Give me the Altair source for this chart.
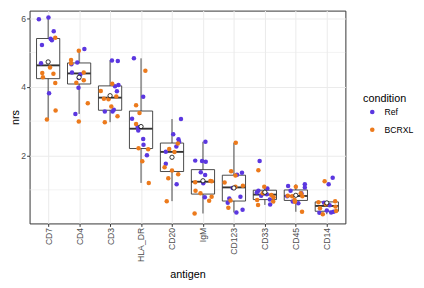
import altair as alt
import pandas as pd
import numpy as np

antigens = ["CD7", "CD4", "CD3", "HLA_DR", "CD20", "IgM", "CD123", "CD33", "CD45", "CD14"]
conditions = ["Ref", "BCRXL"]
condition_colors = ["#5b37e0", "#ec7a1c"]

ref_nrs = [
    [5.97, 6.02, 5.62, 5.40, 5.36, 5.22, 4.69, 3.81],
    [5.10, 4.66, 4.71, 4.42, 4.26, 3.97, 3.21, 4.36],
    [4.77, 4.75, 4.02, 4.05, 3.87, 3.28, 3.28, 3.33],
    [4.83, 3.71, 3.07, 2.83, 2.73, 2.48, 2.31, 2.01],
    [3.06, 2.62, 2.47, 2.40, 2.26, 2.11, 1.76, 1.16],
    [2.40, 1.85, 1.84, 1.82, 1.51, 1.43, 1.19, 0.78],
    [1.50, 1.44, 1.05, 0.80, 0.75, 0.62, 0.42, 0.34],
    [1.84, 1.04, 0.97, 0.92, 0.83, 0.72, 0.57, 0.87],
    [1.16, 1.11, 1.07, 0.97, 0.90, 0.81, 0.66, 0.61],
    [1.35, 1.16, 0.62, 0.55, 0.40, 0.36, 0.34, 0.33],
]
ref_jitter = [
    [-0.30, 0.01, 0.18, 0.08, 0.12, -0.20, -0.23, 0.03],
    [0.17, -0.25, -0.06, -0.23, -0.01, -0.02, -0.12, 0.04],
    [0.06, 0.25, 0.16, 0.27, 0.22, -0.17, 0.08, 0.12],
    [-0.23, 0.07, -0.29, -0.11, -0.09, 0.07, 0.08, 0.19],
    [0.29, 0.04, 0.21, 0.23, 0.14, -0.20, -0.20, 0.15],
    [0.08, -0.25, -0.03, 0.09, -0.07, 0.07, 0.01, 0.06],
    [0.26, 0.10, -0.04, 0.21, -0.15, -0.20, 0.28, 0.08],
    [-0.17, 0.08, -0.21, -0.26, -0.12, 0.16, 0.17, 0.06],
    [0.29, -0.25, 0.29, -0.17, 0.18, -0.28, -0.10, 0.08],
    [0.19, 0.06, -0.09, 0.09, 0.00, 0.22, 0.14, -0.24],
]
bcrxl_nrs = [
    [5.43, 4.56, 4.40, 4.38, 4.28, 4.11, 3.31, 3.05],
    [5.05, 4.78, 4.69, 4.42, 4.12, 4.19, 3.52, 2.99],
    [4.09, 3.88, 3.65, 3.64, 3.72, 3.43, 3.14, 2.97],
    [4.47, 3.46, 3.24, 2.92, 2.21, 2.18, 1.83, 1.20],
    [2.35, 2.19, 2.10, 1.66, 1.56, 1.45, 1.34, 0.67],
    [1.26, 1.25, 1.22, 0.97, 0.90, 0.80, 0.68, 0.31],
    [2.37, 1.54, 1.42, 1.21, 1.12, 1.09, 0.69, 0.48],
    [1.57, 1.09, 0.90, 0.70, 0.56, 0.85, 0.78, 0.66],
    [1.09, 0.90, 0.83, 0.81, 0.81, 0.70, 0.65, 0.36],
    [1.25, 0.67, 0.64, 0.58, 0.51, 0.46, 0.38, 0.29],
]
bcrxl_jitter = [
    [0.23, 0.06, -0.19, 0.17, -0.17, 0.23, 0.24, -0.04],
    [-0.01, -0.26, -0.26, 0.15, -0.09, 0.15, 0.28, -0.01],
    [0.07, -0.30, -0.20, -0.05, 0.20, 0.04, 0.24, -0.17],
    [0.14, -0.16, -0.05, -0.16, -0.08, 0.23, 0.04, 0.25],
    [0.19, -0.09, 0.08, -0.24, 0.00, 0.20, -0.12, -0.17],
    [0.24, 0.28, -0.25, -0.24, -0.08, 0.28, 0.20, -0.27],
    [0.06, -0.09, 0.05, -0.30, 0.29, 0.05, -0.11, -0.18],
    [-0.21, -0.02, -0.07, -0.25, -0.22, 0.21, 0.28, 0.27],
    [0.00, 0.16, -0.26, -0.12, 0.21, -0.04, -0.03, 0.20],
    [-0.07, 0.27, -0.27, -0.03, 0.28, -0.22, 0.30, -0.13],
]
y_ticks = [2, 4, 6]
y_minor = [1, 3, 5]

rows = []
for i, a in enumerate(antigens):
    for cond, vals, jits in (("Ref", ref_nrs[i], ref_jitter[i]),
                             ("BCRXL", bcrxl_nrs[i], bcrxl_jitter[i])):
        for v, j in zip(vals, jits):
            rows.append(dict(antigen=a, condition=cond, nrs=v, xj=i + j))
points = pd.DataFrame(rows)

half = 0.375
stats = []
for i, a in enumerate(antigens):
    v = np.array(ref_nrs[i] + bcrxl_nrs[i])
    q1, med, q3 = np.quantile(v, [0.25, 0.5, 0.75])
    iqr = q3 - q1
    lo = v[v >= q1 - 1.5 * iqr].min()
    hi = v[v <= q3 + 1.5 * iqr].max()
    stats.append(dict(antigen=a, idx=i, x0=i - half, x1=i + half, q1=q1,
                      med=med, q3=q3, lo=lo, hi=hi, mean=v.mean()))
stats = pd.DataFrame(stats)

label_expr = "[" + ",".join("'%s'" % a for a in antigens) + "][datum.value]"
xscale = alt.Scale(domain=[-0.6, len(antigens) - 0.4], nice=False, zero=False)
yscale = alt.Scale(domain=[0.02, 6.22], nice=False, zero=False)
x_axis = alt.Axis(values=list(range(len(antigens))), labelExpr=label_expr,
                  labelAngle=270, title="antigen", grid=True, gridColor="#ebebeb",
                  gridWidth=1.05, labelPadding=1, titlePadding=7)
y_axis = alt.Axis(values=y_ticks, format="d", title="nrs", grid=True,
                  gridColor="#ebebeb", gridWidth=1.05, labelPadding=1, titlePadding=0.5)


def X(field):
    return alt.X(field, scale=xscale, axis=x_axis)


def Y(field):
    return alt.Y(field, scale=yscale, axis=y_axis)


minor = alt.Chart(pd.DataFrame({"v": y_minor})).mark_rule(
    color="#ebebeb", strokeWidth=0.55).encode(y=Y("v:Q"))

base = alt.Chart(stats)
whisk = base.mark_rule(color="#333333", strokeWidth=0.9).encode(
    x=X("idx:Q"), y=Y("lo:Q"), y2="hi:Q")
box = base.mark_bar(fill="white", stroke="#333333", strokeWidth=0.9).encode(
    x=X("x0:Q"), x2="x1:Q", y=Y("q1:Q"), y2="q3:Q")
median = base.mark_rule(color="#333333", strokeWidth=1.9).encode(
    x=X("x0:Q"), x2="x1:Q", y=Y("med:Q"))

dots = alt.Chart(points).mark_circle(size=21, opacity=1).encode(
    x=X("xj:Q"), y=Y("nrs:Q"),
    color=alt.Color("condition:N",
                    scale=alt.Scale(domain=conditions, range=condition_colors),
                    legend=alt.Legend(title="condition", orient="none",
                                      legendX=340, legendY=84)))

mean = base.mark_point(shape="circle", filled=True, fill="white", stroke="black",
                       strokeWidth=0.8, size=19, opacity=1).encode(
    x=X("idx:Q"), y=Y("mean:Q"))

chart = alt.layer(minor, whisk, box, median, dots, mean).properties(
    width=322, height=217,
    autosize=alt.AutoSizeParams(type="none"),
    padding={"left": 22, "top": 0, "right": 72, "bottom": 55},
).configure_view(stroke="#333333", strokeWidth=1).configure_axis(
    domain=False, tickColor="#333333", tickSize=3, tickWidth=1,
    labelColor="#4d4d4d", labelFont="Liberation Sans", labelFontSize=8.8,
    titleFont="Liberation Sans", titleFontSize=11, titleFontWeight="normal",
    titleColor="black",
).configure_legend(
    titleFont="Liberation Sans", titleFontSize=11, titleFontWeight="normal",
    titleColor="black", labelFont="Liberation Sans", labelFontSize=8.8,
    labelColor="black", symbolType="circle", symbolSize=22, symbolOffset=5,
    labelOffset=8, rowPadding=8, titlePadding=4, padding=0,
)

chart.save("out.html", embed_options={"renderer": "svg", "actions": False})
